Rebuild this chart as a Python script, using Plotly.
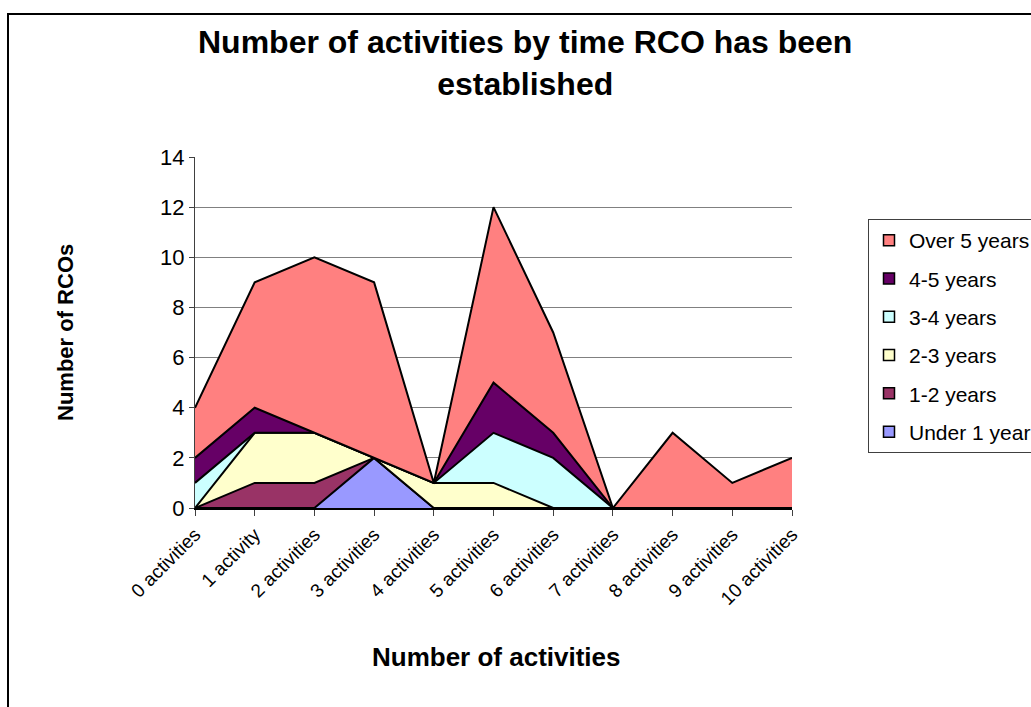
import plotly.graph_objects as go

categories = ["0 activities", "1 activity", "2 activities", "3 activities", "4 activities",
              "5 activities", "6 activities", "7 activities", "8 activities", "9 activities",
              "10 activities"]

under_1 = [0, 0, 0, 2, 0, 0, 0, 0, 0, 0, 0]
y1_2 = [0, 1, 1, 0, 0, 0, 0, 0, 0, 0, 0]
y2_3 = [0, 2, 2, 0, 1, 1, 0, 0, 0, 0, 0]
y3_4 = [1, 0, 0, 0, 0, 2, 2, 0, 0, 0, 0]
y4_5 = [1, 1, 0, 0, 0, 2, 1, 0, 0, 0, 0]
over_5 = [2, 5, 7, 7, 0, 7, 4, 0, 3, 1, 2]

series_names = ["Under 1 year", "1-2 years", "2-3 years", "3-4 years", "4-5 years", "Over 5 years"]
series_values = [under_1, y1_2, y2_3, y3_4, y4_5, over_5]
series_colors = ["#9999FF", "#993366", "#FFFFCC", "#CCFFFF", "#660066", "#FF8080"]

FONT = "Arial, 'Liberation Sans', sans-serif"

fig = go.Figure()
xs = list(range(len(categories)))
for name, vals, col in zip(series_names, series_values, series_colors):
    fig.add_trace(go.Scatter(
        x=xs, y=vals, name=name, mode="lines", stackgroup="one",
        line=dict(color="black", width=2), fillcolor=col,
        showlegend=False, hoverinfo="skip"))

# legend entries (square swatches), top-most series first
for i, (name, col) in enumerate(zip(series_names[::-1], series_colors[::-1])):
    fig.add_trace(go.Scatter(
        x=[None], y=[None], name=name, mode="markers", legendgroup=f"g{i}",
        marker=dict(symbol="square", size=11, color=col, line=dict(color="black", width=1.5)),
        showlegend=True))

W, H = 1031, 707
L, R, T, B = 195, W - 792, 157, H - 508
pw, ph = W - L - R, H - T - B

def px(x):
    return (x - L) / pw

def py(y):
    return (H - B - y) / ph

fig.update_layout(
    width=W, height=H,
    margin=dict(l=L, r=R, t=T, b=B, autoexpand=False),
    paper_bgcolor="white", plot_bgcolor="white",
    font=dict(family=FONT, color="black"),
    showlegend=True,
    legend=dict(
        x=px(868), y=py(219), xanchor="left", yanchor="top",
        bgcolor="white", bordercolor="#404040", borderwidth=1,
        font=dict(size=21, family=FONT, color="black"),
        traceorder="grouped", tracegroupgap=8,
    ),
    xaxis=dict(
        type="linear", range=[0, 10], tickmode="array", tickvals=xs, ticktext=categories,
        tickangle=-45, tickfont=dict(size=19, family=FONT), showgrid=False,
        showline=True, linecolor="black", linewidth=2, ticks="outside", ticklen=6,
        tickcolor="#404040", zeroline=False, fixedrange=True,
    ),
    yaxis=dict(
        range=[0, 14], dtick=2, tickfont=dict(size=22, family=FONT),
        showgrid=True, gridcolor="#808080", gridwidth=1,
        showline=True, linecolor="#404040", linewidth=1, ticks="outside", ticklen=5,
        tickcolor="#404040", zeroline=False, fixedrange=True,
    ),
    annotations=[
        dict(text="<b>Number of activities by time RCO has been<br>established</b>",
             xref="paper", yref="paper", x=px(525), y=py(63), xanchor="center", yanchor="middle",
             showarrow=False, font=dict(size=32, family=FONT, color="black")),
        dict(text="<b>Number of activities</b>", xref="paper", yref="paper",
             x=px(496), y=py(657), xanchor="center", yanchor="middle",
             showarrow=False, font=dict(size=26, family=FONT, color="black")),
        dict(text="<b>Number of RCOs</b>", xref="paper", yref="paper",
             x=px(65), y=py(333), xanchor="center", yanchor="middle", textangle=-90,
             showarrow=False, font=dict(size=22, family=FONT, color="black")),
    ],
    shapes=[
        dict(type="rect", xref="paper", yref="paper",
             x0=px(8), x1=px(1045), y0=py(720), y1=py(14),
             line=dict(color="black", width=2), fillcolor="rgba(0,0,0,0)", layer="below"),
    ],
)

fig.write_html("out.html", config={"displayModeBar": False},
               post_script="document.body.style.margin='0px';")
